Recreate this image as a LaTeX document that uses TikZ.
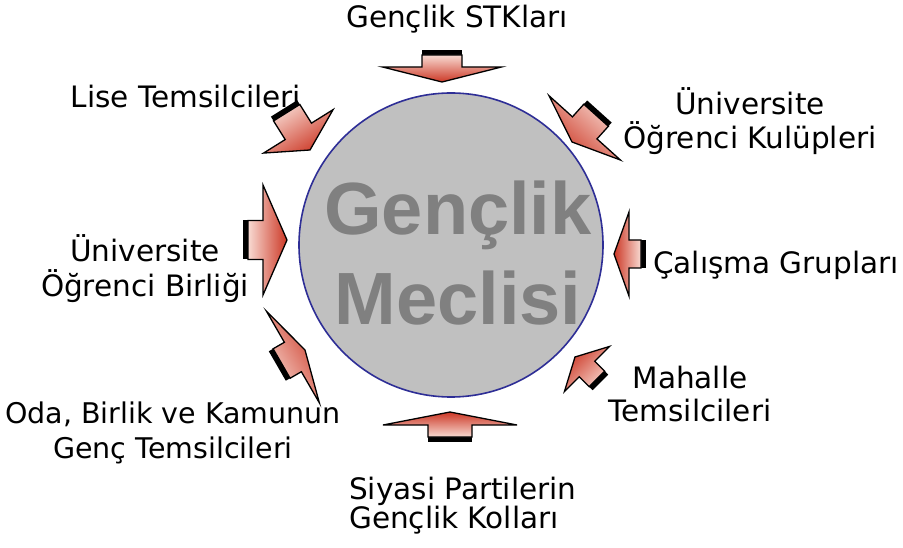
\documentclass[tikz,border=0pt]{standalone}
\usepackage{fontspec}
\setmainfont{DejaVu Sans}
\newfontfamily\meclisfont{Liberation Sans}

\definecolor{kuyruk}{HTML}{F8DAD2}
\definecolor{uc}{HTML}{CC3826}
\definecolor{cember}{HTML}{2E2E96}
\definecolor{dolgu}{HTML}{C0C0C0}
\definecolor{yazi}{HTML}{808080}

% block arrow: tip, direction, length, head length, head half width, shaft half width
\newcommand{\okblok}[6]{%
\pgfmathsetmacro\okaci{#2-90}
\begin{scope}[shift={#1},rotate=#2]
\fill [black] (-#3-5,-#6) rectangle (-#3,#6);
\draw [okgovde,shading angle=\okaci] (0,0) -- (-#4,#5) -- (-#4,#6) -- (-#3,#6) -- (-#3,-#6) -- (-#4,-#6) -- (-#4,-#5) -- cycle;
\end{scope}}

\begin{document}
\begin{tikzpicture}[x=1pt,y=1pt,
  okgovde/.style={draw=black,line width=1.3pt,bottom color=kuyruk,top color=uc},
  birim/.style={font=\fontsize{29.5}{34}\selectfont,align=center,inner sep=0pt,anchor=base}]
\useasboundingbox [fill=white] (0,0) rectangle (903,547);
\node [circle,draw=cember,line width=1.6pt,fill=dolgu,minimum size=304pt,inner sep=0pt] (meclis) at (451,302) {};
\node [font=\meclisfont\bfseries\fontsize{74}{91}\selectfont,text=yazi,align=center,anchor=base,inner sep=0pt] (meclisyazi) at (458,222) {Gençlik\\Meclisi};
% labels (two-line labels sit on their last line)
\node [birim] (stk) at (457,519) {Gençlik STKları};
\node [birim] (lise) at (186,439) {Lise Temsilcileri};
\node [birim] (kulup) at (750,398) {Üniversite\\Öğrenci Kulüpleri};
\node [birim] (calisma) at (776,273) {Çalışma Grupları};
\node [birim] (mahalle) at (690,125) {Mahalle\\Temsilcileri};
\node [birim,align=left,anchor=base west,font=\fontsize{29.5}{29}\selectfont] (siyasi) at (349,19) {Siyasi Partilerin\\Gençlik Kolları};
\node [birim,font=\fontsize{28.5}{35}\selectfont] (oda) at (173,89) {Oda, Birlik ve Kamunun\\Genç Temsilcileri};
\node [birim,font=\fontsize{29.5}{35}\selectfont] (birlik) at (145,250) {Üniversite\\Öğrenci Birliği};
% arrows
\okblok{(442,465)}{-90}{27}{15}{59.5}{20}
\okblok{(572,405)}{-132}{36}{19}{48}{16.5}
\okblok{(614,293)}{180}{27}{15}{42}{14}
\okblok{(575,190)}{135}{31}{17}{32}{11}
\okblok{(450,135)}{90}{25}{13}{67}{22}
\okblok{(305,197)}{30}{27}{14}{53}{17}
\okblok{(287,307)}{0}{39}{24}{55}{19.5}
\okblok{(310,397)}{-58}{44}{22}{41}{15.5}
\end{tikzpicture}
\end{document}
